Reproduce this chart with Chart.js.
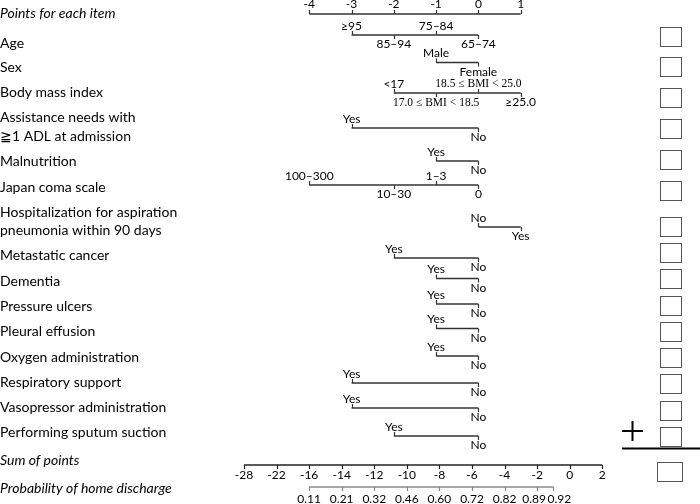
<!DOCTYPE html>
<html><head><meta charset="utf-8">
<script src="https://cdn.jsdelivr.net/npm/chart.js@4/dist/chart.umd.min.js"></script>
<style>html,body{margin:0;padding:0;background:#fff}#wrap{width:700px;height:504px}</style>
</head><body><div id="wrap"><canvas id="c" width="700" height="504"></canvas></div>
<script>
// ---------- DATA ----------
const pointTicks = [-4, -3, -2, -1, 0, 1];
const itemNames = ['Age', 'Sex', 'Body mass index', ['Assistance needs with', '≧1 ADL at admission'],
  'Malnutrition', 'Japan coma scale', ['Hospitalization for aspiration', 'pneumonia within 90 days'],
  'Metastatic cancer', 'Dementia', 'Pressure ulcers', 'Pleural effusion', 'Oxygen administration',
  'Respiratory support', 'Vasopressor administration', 'Performing sputum suction'];
const itemLevels = [
  ['≥95', '85–94', '75–84', '65–74'],
  ['Male', 'Female'],
  ['<17', '17.0 ≤ BMI < 18.5', '18.5 ≤ BMI < 25.0', '≥25.0'],
  ['Yes', 'No'],
  ['Yes', 'No'],
  ['100–300', '10–30', '1–3', '0'],
  ['No', 'Yes'],
  ['Yes', 'No'], ['Yes', 'No'], ['Yes', 'No'], ['Yes', 'No'],
  ['Yes', 'No'], ['Yes', 'No'], ['Yes', 'No'], ['Yes', 'No']
];
const itemPoints = [
  [-3, -2, -1, 0],
  [-1, 0],
  [-2, -1, 0, 1],
  [-3, 0],
  [-1, 0],
  [-4, -2, -1, 0],
  [0, 1],
  [-2, 0], [-1, 0], [-1, 0], [-1, 0],
  [-1, 0], [-3, 0], [-3, 0], [-2, 0]
];
const sumTicks = [-28, -22, -16, -14, -12, -10, -8, -6, -4, -2, 0, 2];
const probLabels = ['0.11', '0.21', '0.32', '0.46', '0.60', '0.72', '0.82', '0.89', '0.92'];
const probAtSum = [-16, -14, -12, -10, -8, -6, -4, -2, -1];

// ---------- LAYOUT (positions/styles, not data) ----------
const rowLineY = [35, 62.5, 93, 128, 161, 185, 227, 258, 278.5, 304, 328.5, 356, 383, 408, 436];
const nameY = [43, 67, 92, [117, 136], 161, 187, [212, 230], 255, 281, 306, 331, 357, 382, 407, 432];
const boxTop = [27, 57, 88, 119, 150, 181, 217, 243, 269, 296, 322, 348, 374, 401, 427];
const probLabelShift = [0, 0, 0, 0, 0, 0, 0, -3, 6];
const topAxisY = 14, sumAxisY = 465, probAxisY = 487;
const LINE = '#333';
const SANS = 'Lato, "Open Sans", sans-serif';
const TICKFONT = '12px ' + SANS;

// axis break on sum-of-points scale: values below -16 are compressed
function sumDisp(v) { return v >= -16 ? v : -16 + (v + 16) / 3; }

const datasets = [];
function seg(xs, y, axis, color, w) {
  datasets.push({
    data: [{ x: Math.min(...xs), y: y }, { x: Math.max(...xs), y: y }],
    xAxisID: axis, yAxisID: 'y', showLine: true, pointRadius: 0,
    borderColor: color, borderWidth: w
  });
}
seg(pointTicks, topAxisY, 'x', LINE, 1.3);
itemPoints.forEach((p, i) => seg(p, rowLineY[i], 'x', LINE, 1.3));
seg(sumTicks.map(sumDisp), sumAxisY, 'x2', '#222', 1.3);
seg(probAtSum.map(sumDisp), probAxisY, 'x2', '#888', 1.3);

const nomoPlugin = {
  id: 'nomo',
  afterDatasetsDraw(chart) {
    const ctx = chart.ctx, X = chart.scales.x, X2 = chart.scales.x2, Y = chart.scales.y;
    ctx.save();
    ctx.fillStyle = '#000';
    ctx.textAlign = 'center';
    ctx.textBaseline = 'middle';
    const tick = (px, y0, y1, col) => {
      ctx.strokeStyle = col || LINE; ctx.lineWidth = 1.2;
      ctx.beginPath(); ctx.moveTo(Math.round(px) + 0.5, y0); ctx.lineTo(Math.round(px) + 0.5, y1); ctx.stroke();
    };
    // top points axis
    ctx.font = TICKFONT;
    const ty = Y.getPixelForValue(topAxisY);
    pointTicks.forEach(v => {
      const px = X.getPixelForValue(v);
      tick(px, ty, ty - 4);
      ctx.fillText(String(v), px, 4);
    });
    // item rows
    itemPoints.forEach((pts, i) => {
      const ly = Y.getPixelForValue(rowLineY[i]);
      const order = pts.map((p, k) => k).sort((a, b) => pts[a] - pts[b]);
      order.forEach((k, j) => {
        const px = X.getPixelForValue(pts[k]);
        const above = j % 2 === 0;
        tick(px, ly, above ? ly - 4 : ly + 4);
        const lab = itemLevels[i][k];
        ctx.font = (lab.indexOf('BMI') >= 0 ? '11.5px "Liberation Serif", serif' : TICKFONT);
        ctx.fillText(lab, px, above ? ly - 9 : ly + 9.5);
      });
    });
    // sum axis
    const sy = Y.getPixelForValue(sumAxisY);
    ctx.font = TICKFONT;
    sumTicks.forEach(v => {
      const px = X2.getPixelForValue(sumDisp(v));
      tick(px, sy, sy + 4, '#222');
      ctx.fillText(String(v), px, sy + 10.5);
    });
    // probability axis
    const py = Y.getPixelForValue(probAxisY);
    probAtSum.forEach((v, i) => {
      const px = X2.getPixelForValue(sumDisp(v));
      tick(px, py, py + 4, '#888');
      ctx.fillText(probLabels[i], px + probLabelShift[i], py + 12);
    });
    // left names
    ctx.textAlign = 'left';
    ctx.font = 'italic 14px ' + SANS;
    ctx.fillText('Points for each item', 0, 13);
    ctx.fillText('Sum of points', 0, 460);
    ctx.fillText('Probability of home discharge', 0, 488);
    ctx.font = '14px ' + SANS;
    itemNames.forEach((n, i) => {
      if (Array.isArray(n)) n.forEach((t, j) => ctx.fillText(t, 0, nameY[i][j]));
      else ctx.fillText(n, 0, nameY[i]);
    });
    // boxes
    ctx.strokeStyle = '#555'; ctx.lineWidth = 1;
    boxTop.forEach(t => ctx.strokeRect(660.5, t + 0.5, 21, 19));
    ctx.strokeRect(657.5, 462.5, 25, 19);
    // plus and separator
    ctx.strokeStyle = '#000'; ctx.lineWidth = 2;
    ctx.beginPath();
    ctx.moveTo(622, 431); ctx.lineTo(643, 431);
    ctx.moveTo(632.5, 421); ctx.lineTo(632.5, 441);
    ctx.moveTo(622, 448.5); ctx.lineTo(700, 448.5);
    ctx.stroke();
    ctx.restore();
  }
};

new Chart(document.getElementById('c'), {
  type: 'scatter',
  data: { datasets },
  options: {
    responsive: false, animation: false, devicePixelRatio: 1,
    layout: { padding: 0 },
    plugins: { legend: { display: false }, tooltip: { enabled: false } },
    scales: {
      x: { type: 'linear', min: -11.315, max: 5.241, display: false },
      x2: { type: 'linear', min: -34.98, max: 8.0, display: false },
      y: { type: 'linear', min: 0, max: 504, reverse: true, display: false }
    }
  },
  plugins: [nomoPlugin]
});
</script>
</body></html>
